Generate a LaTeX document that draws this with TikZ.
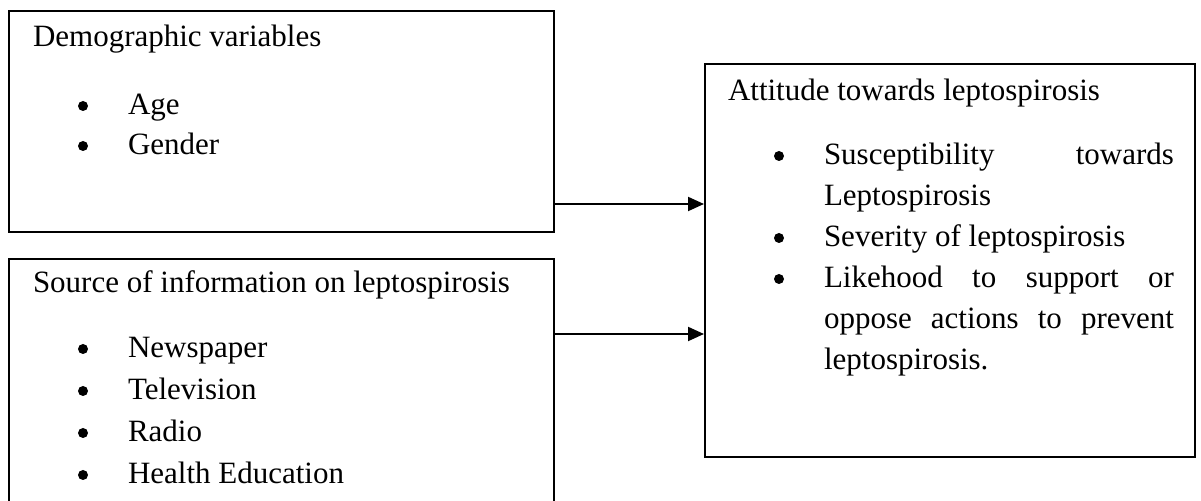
\documentclass[tikz,border=0pt]{standalone}
\usepackage{fontspec}
\setmainfont{Liberation Serif}
\usetikzlibrary{arrows.meta}

\begin{document}
\begin{tikzpicture}[x=0.5pt, y=-0.5pt, font=\fontsize{15.5}{20}\selectfont, line width=1pt,
    box/.style = {draw, anchor=north west, inner sep=0},
    txt/.style = {anchor=base west, inner sep=0},
    dot/.style = {circle, fill, inner sep=0, minimum size=5pt},
    arr/.style = {-{Triangle[length=8pt, width=7pt]}}]
                \useasboundingbox (0,0) rectangle (1201,501);
                % boxes
                \node[box, minimum width=272.5pt, minimum height=110.5pt] (demo) at (8,10) {};
                \node[box, minimum width=272.5pt, minimum height=131pt] (info) at (8,258) {};
                \node[box, minimum width=245pt, minimum height=196.5pt] (att) at (704,63) {};
                % left texts
                \node[txt] (demoT) at (32,47) {Demographic variables};
                \foreach \t [count=\i] in {Age, Gender}
                {
                    \node[dot] (db\i) at (83,66+40*\i) {};
                    \node[txt] (d\i) at (127,75+40*\i) {\t};
                }
                \node[txt] (infoT) at (32,293) {Source of information on leptospirosis};
                \foreach \t [count=\i] in {Newspaper, Television, Radio, Health Education}
                {
                    \node[dot] (nb\i) at (83,307+42*\i) {};
                    \node[txt] (n\i) at (127,316+42*\i) {\t};
                }
                % right texts
                \node[txt] (attT) at (727,101) {Attitude towards leptospirosis};
                \node[dot] (ab1) at (779,156) {};
                \node[txt] (a1) at (823,165) {\makebox[175pt][s]{Susceptibility\hfill towards}};
                \node[txt] (a1b) at (823,206) {Leptospirosis};
                \node[dot] (ab2) at (779,238) {};
                \node[txt] (a2) at (823,247) {Severity of leptospirosis};
                \node[dot] (ab3) at (779,279) {};
                \node[txt] (a3) at (823,288) {\makebox[175pt][s]{Likehood\hfill to\hfill support\hfill or}};
                \node[txt] (a3b) at (823,329) {\makebox[175pt][s]{oppose\hfill actions\hfill to\hfill prevent}};
                \node[txt] (a3c) at (823,370) {leptospirosis.};
                % arrows
                \draw[arr] ([yshift=14.5pt]demo.south east) -- ([yshift=14.5pt]demo.south east -| att.west);
                \draw[arr] ([yshift=-38pt]info.north east) -- ([yshift=-38pt]info.north east -| att.west);
            \end{tikzpicture}
\end{document}
